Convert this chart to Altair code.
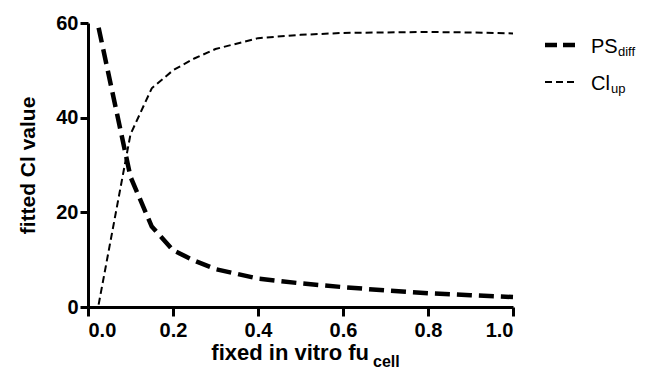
import altair as alt
import pandas as pd

fu = [0.025, 0.1, 0.15, 0.2, 0.25, 0.3, 0.4, 0.5, 0.6, 0.7, 0.8, 0.9, 1.0]
ps_diff = [59, 27.5, 17, 12, 9.8, 8, 6, 5, 4.2, 3.5, 2.9, 2.5, 2.1]
cl_up = [0.5, 36.5, 46.2, 50, 52.5, 54.5, 56.8, 57.5, 57.9, 58, 58.1, 58, 57.8]

series_names = ["PS_diff", "Cl_up"]
legend_main = ["PS", "Cl"]
legend_sub = ["diff", "up"]

rows = []
for x, a, b in zip(fu, ps_diff, cl_up):
    rows.append({"fu": x, "value": a, "series": "PS_diff"})
    rows.append({"fu": x, "value": b, "series": "Cl_up"})
df = pd.DataFrame(rows)

FONT = "Liberation Sans"
W, H = 425, 284

lines = alt.Chart(df).mark_line(strokeCap="butt", color="black").encode(
    x=alt.X("fu:Q", scale=alt.Scale(domain=[0, 1]),
            axis=alt.Axis(values=[0, 0.2, 0.4, 0.6, 0.8, 1.0], format=".1f", title=None,
                          tickSize=9, labelPadding=4)),
    y=alt.Y("value:Q", scale=alt.Scale(domain=[0, 60]),
            axis=alt.Axis(values=[0, 20, 40, 60], title="fitted Cl value", tickSize=8,
                          labelPadding=2, titlePadding=17)),
    detail="series:N",
    strokeDash=alt.StrokeDash("series:N", scale=alt.Scale(domain=series_names, range=[[15, 7], [7, 4]]), legend=None),
    strokeWidth=alt.StrokeWidth("series:N", scale=alt.Scale(domain=series_names, range=[4.5, 2]), legend=None),
)

one = pd.DataFrame({"k": [0]})
layers = [lines]

# x-axis title with subscript
layers.append(alt.Chart(one).mark_text(text="fixed in vitro fu", font=FONT, fontWeight="bold", fontSize=22,
                                       align="right", baseline="alphabetic", color="black")
              .encode(x=alt.value(281), y=alt.value(337)))
layers.append(alt.Chart(one).mark_text(text="cell", font=FONT, fontWeight="bold", fontSize=16,
                                       align="left", baseline="alphabetic", color="black")
              .encode(x=alt.value(285), y=alt.value(344)))

# legend
dashes = [[12, 6], [7, 4]]
widths = [4.5, 2]
row_y = [22, 59]
sub_off = [27, 20]
for i in range(2):
    layers.append(alt.Chart(one).mark_rule(strokeDash=dashes[i], strokeWidth=widths[i], color="black")
                  .encode(x=alt.value(457), x2=alt.value(489), y=alt.value(row_y[i])))
    layers.append(alt.Chart(one).mark_text(text=legend_main[i], font=FONT, fontSize=20, align="left",
                                           baseline="alphabetic", color="black")
                  .encode(x=alt.value(503), y=alt.value(row_y[i] + 8)))
    layers.append(alt.Chart(one).mark_text(text=legend_sub[i], font=FONT, fontSize=13, align="left",
                                           baseline="alphabetic", color="black")
                  .encode(x=alt.value(503 + sub_off[i]), y=alt.value(row_y[i] + 11)))

chart = alt.layer(*layers).properties(
    width=W, height=H,
    autosize=alt.AutoSizeParams(type="none"),
    padding={"left": 80, "top": 15, "right": 130, "bottom": 62},
).configure_view(stroke=None).configure_axis(
    grid=False, domainColor="black", domainWidth=3, tickColor="black", tickWidth=3,
    labelFont=FONT, labelFontWeight="bold", labelFontSize=20, labelColor="black",
    titleFont=FONT, titleFontWeight="bold", titleFontSize=21, titleColor="black",
)

chart.save("out.html", embed_options={"renderer": "svg", "actions": False})
